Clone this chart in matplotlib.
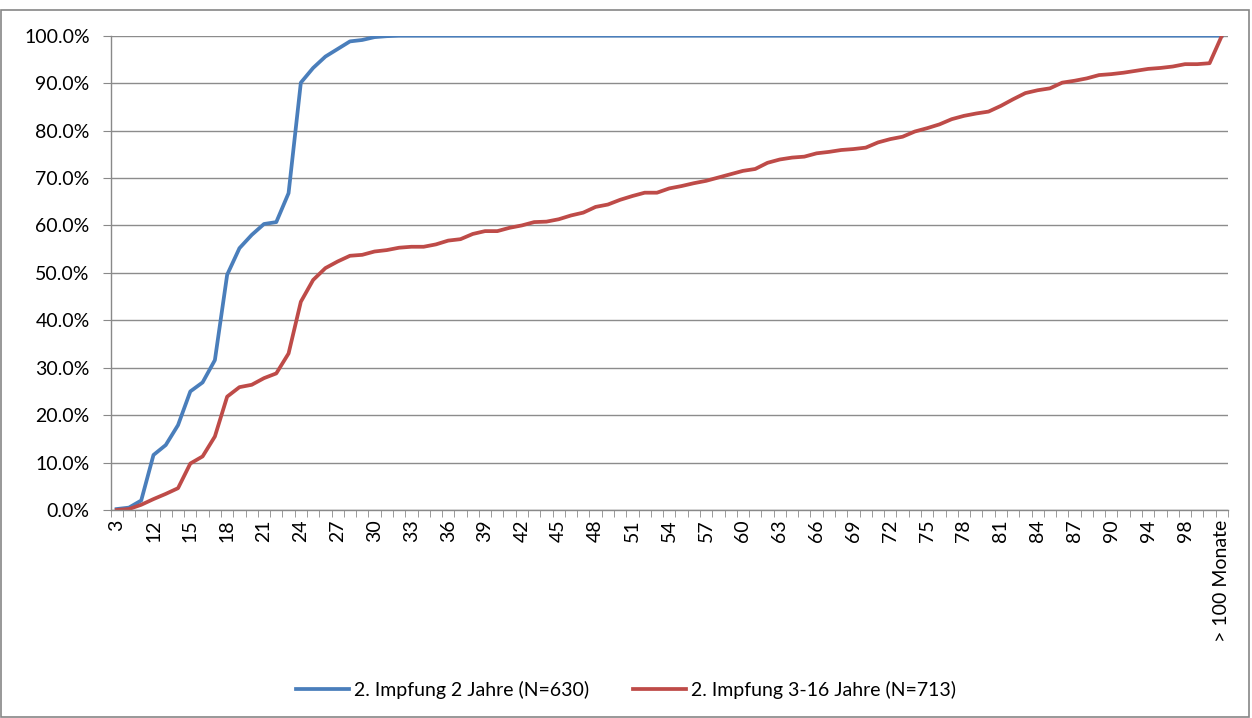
import matplotlib
matplotlib.use('Agg')
from matplotlib import pyplot as plt
from matplotlib.patches import Rectangle
from matplotlib.ticker import PercentFormatter

# categories (months); only every 3rd one gets a label in the original
months = ['3', '10', '11'] + [str(m) for m in range(12, 91)] + \
         ['91', '93', '94', '95', '97', '98', '99', '100', '> 100 Monate']

# cumulative share (%)
impf_2j = [0.2, 0.5, 2.0, 11.6, 13.7, 17.9, 25.0, 26.9, 31.6, 49.6,
           55.2, 58.0, 60.3, 60.7, 66.8, 90.1, 93.2, 95.6, 97.2, 98.8,
           99.1, 99.7, 99.9] + [100.0] * 68

impf_3_16j = [0.0, 0.2, 1.1, 2.3, 3.4, 4.6, 9.8, 11.3, 15.5, 23.9,
              25.9, 26.4, 27.8, 28.8, 33.0, 43.9, 48.5, 51.0, 52.4, 53.6,
              53.8, 54.5, 54.8, 55.3, 55.5, 55.5, 56.0, 56.8, 57.1, 58.2,
              58.8, 58.8, 59.5, 60.0, 60.7, 60.8, 61.3, 62.1, 62.7, 63.9,
              64.4, 65.4, 66.2, 66.9, 66.9, 67.8, 68.3, 68.9, 69.4, 70.1,
              70.8, 71.5, 71.9, 73.2, 73.9, 74.3, 74.5, 75.2, 75.5, 75.9,
              76.1, 76.4, 77.5, 78.2, 78.7, 79.8, 80.5, 81.3, 82.4, 83.1,
              83.6, 84.0, 85.2, 86.6, 87.9, 88.5, 88.9, 90.1, 90.5, 91.0,
              91.7, 91.9, 92.2, 92.6, 93.0, 93.2, 93.5, 94.0, 94.0, 94.2,
              100.0]

plt.rcParams['font.family'] = ['Lato', 'DejaVu Sans']

fig = plt.figure(figsize=(12.52, 7.18), dpi=100)
W, H = 1252, 718
ax = fig.add_axes([110.5 / W, 1 - 510 / H, (1228 - 110.5) / W, (510 - 35.7) / H])

x = list(range(len(months)))
ax.plot(x, impf_2j, color='#4A7EBB', lw=2.7, label='2. Impfung 2 Jahre (N=630)')
ax.plot(x, impf_3_16j, color='#BE4B48', lw=2.7, label='2. Impfung 3-16 Jahre (N=713)')

ax.set_xlim(-0.5, len(months) - 0.5)
ax.set_ylim(0, 100)
ax.set_yticks(range(0, 101, 10))
ax.yaxis.set_major_formatter(PercentFormatter(decimals=1))

ax.set_xticks(x)
ax.set_xticklabels([m if i % 3 == 0 else '' for i, m in enumerate(months)],
                   rotation=90, fontsize=14)
ax.tick_params(axis='x', which='major', length=0, pad=7)
ax.set_xticks([i - 0.5 for i in range(len(months) + 1)], minor=True)
ax.tick_params(axis='x', which='minor', length=5, color='#898989', direction='out')
ax.tick_params(axis='y', length=6, color='#898989', labelsize=14, pad=9)

ax.grid(axis='y', color='#8C8C8C', lw=1)
ax.set_axisbelow(True)
for s in ['top', 'right']:
    ax.spines[s].set_visible(False)
for s in ['left', 'bottom']:
    ax.spines[s].set_color('#898989')
    ax.spines[s].set_linewidth(1)

fig.legend(loc='center', bbox_to_anchor=(0.5, 1 - 690 / H), ncol=2, frameon=False,
           fontsize=14, handlelength=2.7, columnspacing=2.3, handletextpad=0.25)

fig.patches.append(Rectangle((1 / W, 1 / H), 1 - 4 / W, 1 - 11 / H,
                             transform=fig.transFigure, fill=False,
                             edgecolor='#868686', lw=1.2))

fig.savefig('out.png', dpi=100)
